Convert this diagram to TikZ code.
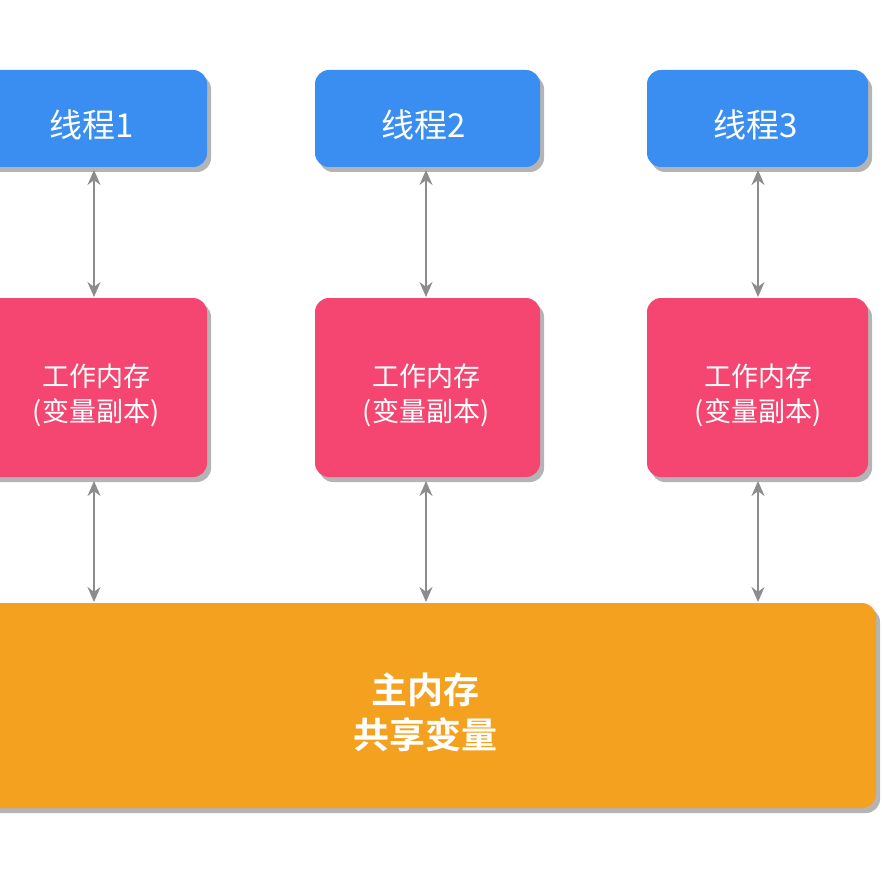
\documentclass[tikz,border=0pt]{standalone}
\usepackage{fontspec}
\newfontfamily\cjk{Noto Sans CJK SC}
\newfontfamily\cjkb{Noto Sans CJK SC Bold}
\usetikzlibrary{arrows.meta,calc}
\definecolor{tblue}{HTML}{3A8EF2}
\definecolor{tpink}{HTML}{F54672}
\definecolor{torange}{HTML}{F4A120}
\definecolor{tshadow}{HTML}{B4B4B4}
\definecolor{tarrow}{HTML}{8C8C8C}
\tikzset{
  box/.style={rounded corners=14pt, inner sep=0pt, text=white, align=center},
  shad/.style={fill=tshadow, rounded corners=14pt},
  link/.style={draw=tarrow, line width=1.8pt, {Stealth[length=15pt,width=13pt]}-{Stealth[length=15pt,width=13pt]}}
}
\begin{document}
\begin{tikzpicture}[x=1pt,y=-1pt]
\useasboundingbox (0,0) rectangle (881,882);
% shadows
\foreach \l/\t/\r/\b in {-18/70/207/167, 315/70/540/167, 647/70/868/167,
  -18/298/207/477, 315/298/540/477, 647/298/868/477, -18/603/876/808}{
  \fill[shad] (\l+4,\t+5) rectangle (\r+4,\b+5);
}
% thread boxes
\node[box, fill=tblue, minimum width=225pt, minimum height=97pt] (t1) at (94.5,118.5) {};
\node[box, fill=tblue, minimum width=225pt, minimum height=97pt] (t2) at (427.5,118.5) {};
\node[box, fill=tblue, minimum width=221pt, minimum height=97pt] (t3) at (757.5,118.5) {};
\node[text=white, font=\cjk\fontsize{33}{38}\selectfont] (t1l) at (92,125) {线程1};
\node[text=white, font=\cjk\fontsize{33}{38}\selectfont] (t2l) at (424,125) {线程2};
\node[text=white, font=\cjk\fontsize{33}{38}\selectfont] (t3l) at (756,125) {线程3};
% working memory
\node[box, fill=tpink, minimum width=225pt, minimum height=179pt] (w1) at (94.5,387.5) {};
\node[box, fill=tpink, minimum width=225pt, minimum height=179pt] (w2) at (427.5,387.5) {};
\node[box, fill=tpink, minimum width=221pt, minimum height=179pt] (w3) at (757.5,387.5) {};
\node[text=white, align=center, font=\cjk\fontsize{27}{35}\selectfont] (w1l) at (96,395) {工作内存\\(变量副本)};
\node[text=white, align=center, font=\cjk\fontsize{27}{35}\selectfont] (w2l) at (426,395) {工作内存\\(变量副本)};
\node[text=white, align=center, font=\cjk\fontsize{27}{35}\selectfont] (w3l) at (758,395) {工作内存\\(变量副本)};
% main memory
\node[box, fill=torange, minimum width=894pt, minimum height=205pt] (m) at (429,705.5) {};
\node[text=white, align=center, font=\cjkb\fontsize{36}{45}\selectfont] (mt) at (425,712) {主内存\\共享变量};
% arrows
\foreach \i/\x in {1/94, 2/426, 3/758}{
  \coordinate (a\i) at (\x,170);
  \coordinate (b\i) at (\x,297);
  \coordinate (c\i) at (\x,481);
  \coordinate (d\i) at (\x,602);
  \draw[link] (a\i) -- (b\i);
  \draw[link] (c\i) -- (d\i);
}
\end{tikzpicture}
\end{document}
